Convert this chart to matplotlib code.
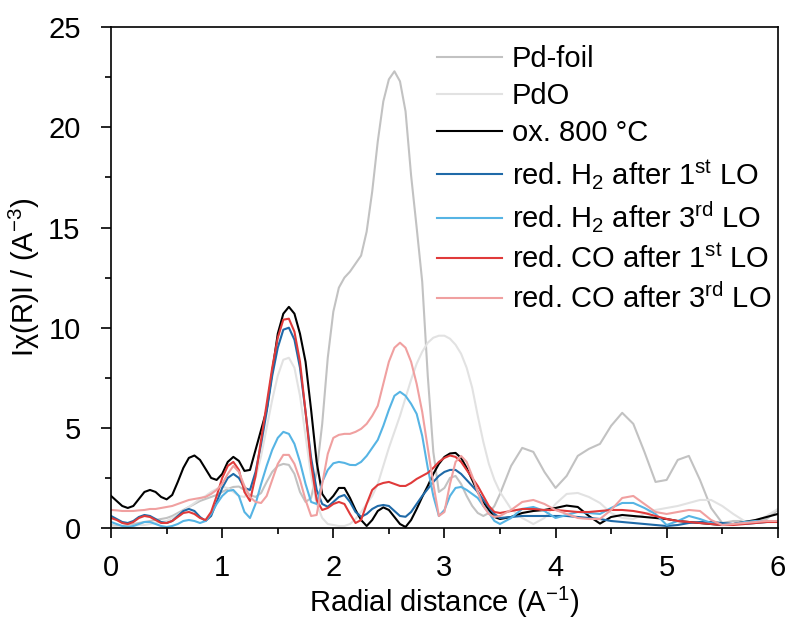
import matplotlib
matplotlib.use("Agg")
from matplotlib import pyplot as plt
from matplotlib.ticker import MultipleLocator

# Fourier transformed EXAFS magnitudes |chi(R)| of the Pd samples and the two references.

plt.rcParams['font.family'] = ['Liberation Sans', 'DejaVu Sans']
plt.rcParams['mathtext.fontset'] = 'custom'
plt.rcParams['mathtext.rm'] = 'Liberation Sans'
plt.rcParams['mathtext.it'] = 'Liberation Sans:italic'
plt.rcParams['mathtext.bf'] = 'Liberation Sans:bold'

# Radial distance grid (finer up to 3.5, coarser after)
radialDistance = [0.00, 0.05, 0.10, 0.15, 0.20, 0.25, 0.30, 0.35, 0.40, 0.45,
                  0.50, 0.55, 0.60, 0.65, 0.70, 0.75, 0.80, 0.85, 0.90, 0.95,
                  1.00, 1.05, 1.10, 1.15, 1.20, 1.25, 1.30, 1.35, 1.40, 1.45,
                  1.50, 1.55, 1.60, 1.65, 1.70, 1.75, 1.80, 1.85, 1.90, 1.95,
                  2.00, 2.05, 2.10, 2.15, 2.20, 2.25, 2.30, 2.35, 2.40, 2.45,
                  2.50, 2.55, 2.60, 2.65, 2.70, 2.75, 2.80, 2.85, 2.90, 2.95,
                  3.00, 3.05, 3.10, 3.15, 3.20, 3.25, 3.30, 3.35, 3.40, 3.45,
                  3.50, 3.60, 3.70, 3.80, 3.90, 4.00, 4.10, 4.20, 4.30, 4.40,
                  4.50, 4.60, 4.70, 4.80, 4.90, 5.00, 5.10, 5.20, 5.30, 5.40,
                  5.50, 5.60, 5.70, 5.80, 5.90, 6.00]

chiPdFoil = [0.15, 0.10, 0.10, 0.15, 0.20, 0.25, 0.30, 0.35, 0.40, 0.45,
             0.50, 0.60, 0.75, 0.90, 1.05, 1.20, 1.35, 1.45, 1.55, 1.65,
             1.80, 1.95, 2.05, 2.07, 1.90, 1.65, 1.55, 1.75, 2.30, 2.80,
             3.10, 3.20, 3.15, 2.70, 1.80, 1.30, 1.50, 2.80, 5.20, 8.50,
             10.80, 12.00, 12.50, 12.80, 13.20, 13.60, 14.80, 16.80, 19.30, 21.30,
             22.40, 22.80, 22.30, 20.80, 17.60, 15.00, 12.30, 7.60, 3.80, 1.80,
             2.00, 2.50, 2.60, 2.20, 1.60, 1.10, 0.75, 0.60, 0.75, 1.10,
             1.70, 3.10, 4.00, 3.80, 2.80, 2.00, 2.60, 3.60, 3.95, 4.20,
             5.10, 5.75, 5.20, 3.80, 2.30, 2.40, 3.40, 3.60, 2.40, 1.00,
             0.25, 0.35, 0.35, 0.30, 0.45, 0.90]

chiPdO = [0.10, 0.05, 0.05, 0.05, 0.10, 0.15, 0.15, 0.20, 0.25, 0.30,
          0.35, 0.50, 0.65, 0.85, 1.05, 1.25, 1.45, 1.60, 1.80, 1.95,
          2.05, 2.00, 1.80, 1.60, 1.55, 1.90, 2.50, 3.60, 5.00, 6.40,
          7.60, 8.40, 8.50, 8.00, 6.60, 4.60, 2.60, 1.20, 0.50, 0.20,
          0.15, 0.10, 0.10, 0.20, 0.45, 0.80, 1.20, 1.60, 2.20, 3.10,
          4.00, 4.80, 5.60, 6.50, 7.40, 8.20, 8.80, 9.25, 9.50, 9.60,
          9.60, 9.45, 9.15, 8.70, 8.00, 7.00, 5.60, 4.30, 3.20, 2.40,
          1.80, 0.95, 0.50, 0.20, 0.50, 1.20, 1.70, 1.75, 1.55, 1.25,
          0.75, 0.50, 0.45, 0.70, 0.90, 1.00, 1.10, 1.25, 1.40, 1.40,
          1.10, 0.70, 0.35, 0.30, 0.60, 0.95]

chiOx800 = [1.60, 1.35, 1.10, 1.00, 1.10, 1.45, 1.80, 1.90, 1.80, 1.55,
            1.43, 1.65, 2.30, 3.00, 3.50, 3.62, 3.40, 2.95, 2.50, 2.40,
            2.70, 3.30, 3.55, 3.35, 2.85, 2.90, 3.90, 4.90, 5.90, 7.80,
            9.70, 10.70, 11.04, 10.70, 9.70, 8.30, 5.90, 3.30, 1.70, 1.30,
            1.60, 2.00, 2.00, 1.50, 0.90, 0.40, 0.10, 0.40, 0.85, 1.03,
            0.90, 0.55, 0.20, 0.05, 0.40, 0.95, 1.55, 2.10, 2.70, 3.20,
            3.55, 3.72, 3.75, 3.50, 3.00, 2.40, 1.80, 1.30, 0.90, 0.55,
            0.45, 0.55, 0.75, 0.85, 0.90, 1.00, 1.12, 1.05, 0.60, 0.22,
            0.55, 0.65, 0.60, 0.55, 0.50, 0.45, 0.35, 0.30, 0.25, 0.20,
            0.15, 0.20, 0.30, 0.40, 0.55, 0.70]

chiH2First = [0.60, 0.45, 0.30, 0.25, 0.35, 0.55, 0.65, 0.60, 0.45, 0.30,
              0.25, 0.35, 0.60, 0.85, 0.95, 0.85, 0.55, 0.35, 0.60, 1.30,
              2.00, 2.50, 2.70, 2.50, 2.00, 1.90, 2.80, 4.20, 5.80, 7.60,
              9.00, 9.90, 10.00, 9.40, 8.00, 5.80, 3.50, 1.90, 1.20, 1.06,
              1.30, 1.55, 1.65, 1.30, 0.80, 0.56, 0.70, 0.95, 1.10, 1.15,
              1.10, 0.85, 0.60, 0.56, 0.80, 1.20, 1.60, 1.95, 2.30, 2.60,
              2.80, 2.90, 2.90, 2.70, 2.40, 2.10, 1.80, 1.40, 1.05, 0.70,
              0.50, 0.55, 0.60, 0.60, 0.60, 0.60, 0.60, 0.55, 0.50, 0.45,
              0.35, 0.30, 0.25, 0.20, 0.15, 0.10, 0.15, 0.25, 0.30, 0.30,
              0.25, 0.20, 0.20, 0.25, 0.30, 0.35]

chiH2Third = [0.30, 0.20, 0.10, 0.05, 0.10, 0.20, 0.30, 0.30, 0.20, 0.10,
              0.05, 0.10, 0.20, 0.35, 0.40, 0.35, 0.25, 0.35, 0.70, 1.20,
              1.60, 1.85, 1.90, 1.60, 0.80, 0.50, 1.20, 2.20, 3.10, 3.90,
              4.50, 4.80, 4.70, 4.20, 3.30, 2.20, 1.30, 1.20, 2.30, 2.90,
              3.23, 3.30, 3.25, 3.15, 3.14, 3.30, 3.60, 4.00, 4.40, 5.10,
              5.90, 6.60, 6.80, 6.60, 6.20, 5.70, 4.60, 3.00, 1.60, 0.60,
              0.90, 1.60, 2.00, 2.05, 1.90, 1.70, 1.50, 1.10, 0.75, 0.35,
              0.20, 0.50, 0.95, 1.05, 0.85, 0.50, 0.65, 0.80, 0.75, 0.70,
              1.00, 1.25, 1.25, 1.00, 0.70, 0.15, 0.35, 0.60, 0.45, 0.25,
              0.15, 0.20, 0.30, 0.35, 0.30, 0.35]

chiCOFirst = [0.50, 0.40, 0.25, 0.20, 0.30, 0.50, 0.60, 0.55, 0.40, 0.25,
              0.25, 0.35, 0.55, 0.75, 0.80, 0.70, 0.50, 0.40, 0.80, 1.60,
              2.50, 3.10, 3.30, 2.90, 1.80, 1.35, 2.60, 4.40, 6.20, 8.00,
              9.50, 10.40, 10.45, 9.80, 8.30, 5.80, 3.20, 1.40, 0.90, 1.00,
              1.20, 1.30, 1.20, 0.70, 0.25, 0.40, 1.20, 1.90, 2.15, 2.25,
              2.30, 2.20, 2.10, 2.10, 2.25, 2.45, 2.60, 2.75, 3.00, 3.30,
              3.50, 3.62, 3.55, 3.30, 2.90, 2.50, 2.10, 1.60, 1.10, 0.80,
              0.75, 0.85, 0.95, 0.95, 0.90, 0.90, 0.85, 0.80, 0.80, 0.85,
              0.90, 0.90, 0.85, 0.75, 0.60, 0.45, 0.35, 0.30, 0.25, 0.20,
              0.15, 0.15, 0.20, 0.25, 0.30, 0.30]

chiCOThird = [0.90, 0.88, 0.85, 0.85, 0.85, 0.88, 0.90, 0.95, 0.95, 1.00,
              1.05, 1.10, 1.20, 1.30, 1.40, 1.45, 1.50, 1.55, 1.70, 1.90,
              2.20, 2.70, 3.10, 2.80, 2.10, 1.55, 1.30, 1.25, 1.60, 2.40,
              3.20, 3.65, 3.65, 3.20, 2.40, 1.40, 0.60, 0.65, 2.20, 3.70,
              4.50, 4.65, 4.70, 4.70, 4.80, 4.95, 5.20, 5.60, 6.10, 7.20,
              8.30, 9.00, 9.25, 9.00, 8.30, 7.20, 5.80, 4.00, 2.20, 0.60,
              0.80, 2.20, 3.30, 3.60, 3.30, 2.60, 1.80, 1.10, 0.70, 0.55,
              0.60, 0.90, 1.30, 1.40, 1.20, 0.90, 0.70, 0.50, 0.45, 0.45,
              0.90, 1.50, 1.60, 1.20, 0.80, 0.70, 0.80, 0.90, 0.85, 0.40,
              0.15, 0.20, 0.25, 0.30, 0.35, 0.35]

# Drawing order, labels and colours for the spectra
seriesValues = [chiPdFoil, chiPdO, chiOx800, chiH2First, chiH2Third, chiCOFirst, chiCOThird]
seriesLabels = ['Pd-foil',
                'PdO',
                'ox. 800 °C',
                r'red. H$_2$ after 1$^{\mathregular{st}}$ LO',
                r'red. H$_2$ after 3$^{\mathregular{rd}}$ LO',
                r'red. CO after 1$^{\mathregular{st}}$ LO',
                r'red. CO after 3$^{\mathregular{rd}}$ LO']
seriesColors = ['#c2c2c2', '#e2e2e2', '#000000', '#1f6aa8', '#56b4e4', '#e03a3a', '#f0a0a0']

figure, axis = plt.subplots(figsize=(7.88, 6.19), dpi=100)
figure.subplots_adjust(left=0.141, right=0.987, top=0.956, bottom=0.147)

for values, label, color in zip(seriesValues, seriesLabels, seriesColors):
    axis.plot(radialDistance, values, color=color, linewidth=1.5, label=label)

axis.set_xlim(0, 6)
axis.set_ylim(0, 25)
axis.xaxis.set_major_locator(MultipleLocator(1))
axis.xaxis.set_minor_locator(MultipleLocator(0.5))
axis.yaxis.set_major_locator(MultipleLocator(5))
axis.yaxis.set_minor_locator(MultipleLocator(2.5))
axis.tick_params(which='both', direction='out', width=1.2, labelsize=21, top=False, right=False)
axis.tick_params(which='major', length=7)
axis.tick_params(which='minor', length=4)
axis.tick_params(axis='x', which='major', pad=12)
axis.tick_params(axis='y', which='major', pad=15)
for spine in axis.spines.values():
    spine.set_linewidth(1.2)

axis.set_xlabel(r'Radial distance (A$^{\mathregular{-1}}$)', fontsize=21, labelpad=2)
axis.set_ylabel(r'Iχ(R)I / (A$^{\mathregular{-3}}$)', fontsize=21, labelpad=4)

axis.legend(loc='upper left', bbox_to_anchor=(0.489, 0.965), frameon=False, fontsize=21,
            handlelength=2.23, handletextpad=0.34, borderpad=0, borderaxespad=0, labelspacing=0.32)

figure.savefig('out.png', dpi=100)
